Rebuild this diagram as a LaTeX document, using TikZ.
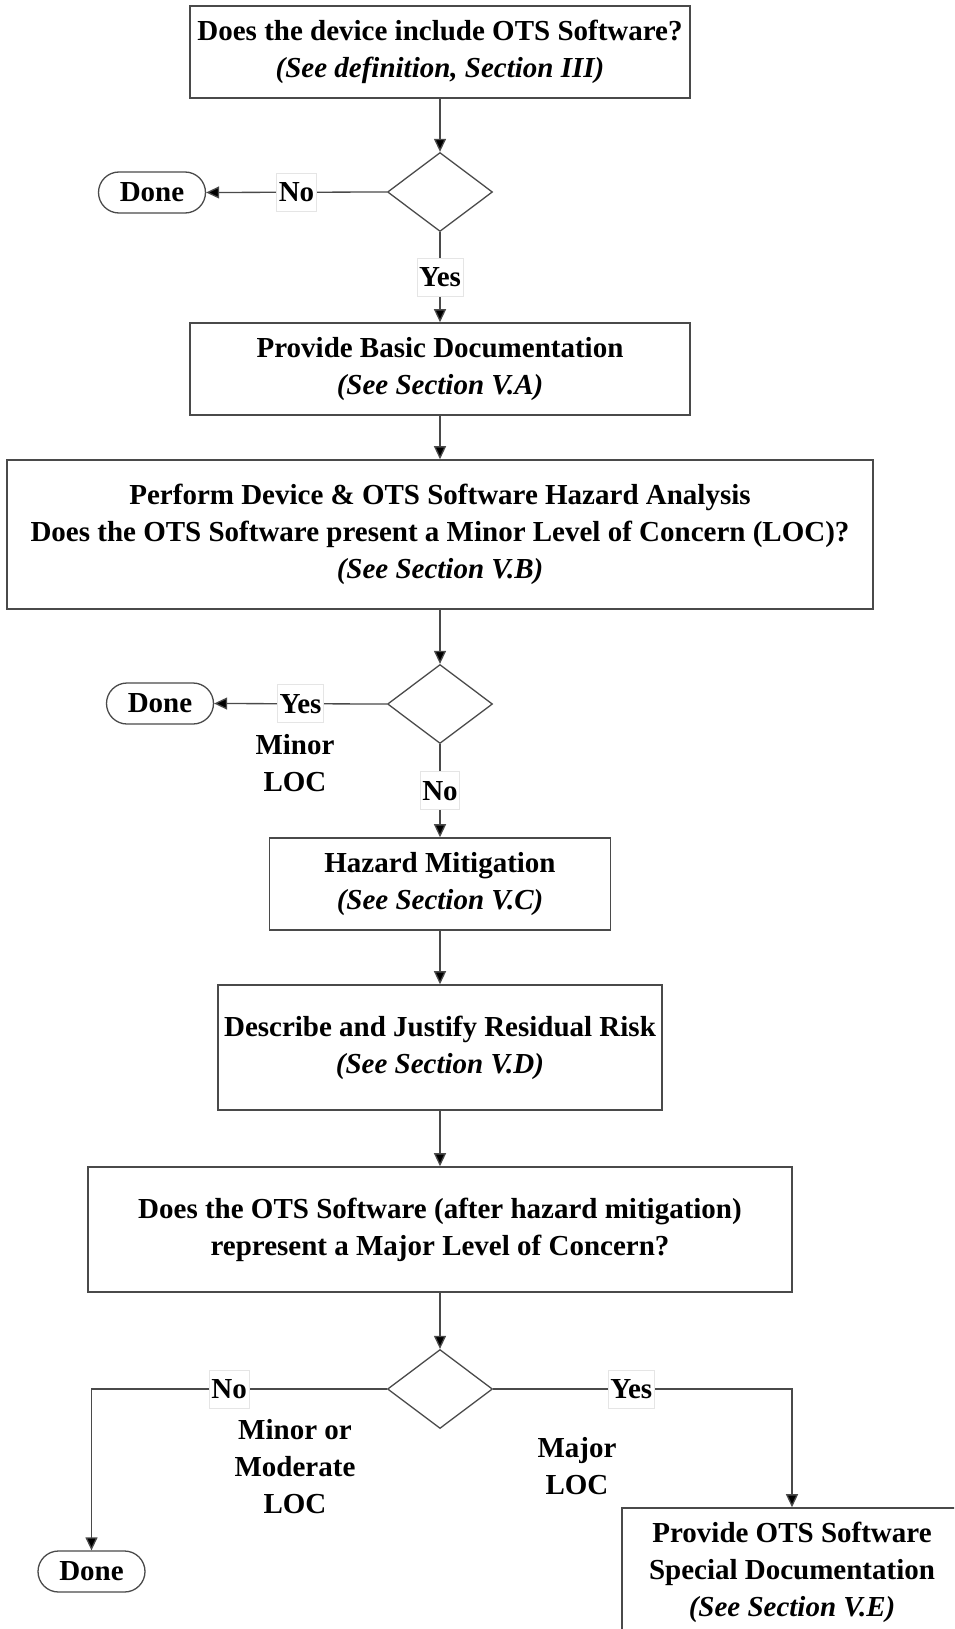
\documentclass[tikz,border=0pt]{standalone}
\usepackage{fontspec}
\setmainfont{Liberation Serif}
\usetikzlibrary{arrows.meta,shapes.geometric,shapes.misc}
\definecolor{linegray}{HTML}{4A4A4A}
\tikzset{
  every node/.style={font=\bfseries\fontsize{29}{37}\selectfont, text=black},
  procbox/.style={draw=linegray, line width=1.6pt, rectangle, align=center, inner sep=0pt},
  decision/.style={draw=linegray, line width=1.3pt, diamond, inner sep=0pt, minimum width=105pt, minimum height=79pt},
  donebox/.style={draw=linegray, line width=1.3pt, rounded rectangle, inner sep=0pt, minimum width=107pt, minimum height=41pt},
  flow/.style={draw=linegray, line width=1.3pt, -{Triangle[length=13pt,width=12pt,fill=black]}},
  lbl/.style={fill=white, draw=gray!20, line width=0.6pt, inner xsep=2pt, inner ysep=0pt, minimum height=38pt},
  note/.style={align=center, inner sep=0pt}
}
\begin{document}
\begin{tikzpicture}[x=1pt,y=-1pt]
\useasboundingbox (0,0) rectangle (954,1629);
\clip (0,0) rectangle (954,1629);
% boxes
\node[procbox, minimum width=500pt, minimum height=92pt] (b1) at (440,52) {Does the device include OTS Software?\\\textit{(See definition, Section III)}};
\node[decision] (d1) at (440,192) {};
\node[donebox] (e1) at (152,192.5) {Done};
\node[procbox, minimum width=500pt, minimum height=92pt] (b2) at (440,369) {Provide Basic Documentation\\\textit{(See Section V.A)}};
\node[procbox, minimum width=866pt, minimum height=149pt] (b3) at (440,534.5) {Perform Device \& OTS Software Hazard Analysis\\Does the OTS Software present a Minor Level of Concern (LOC)?\\\textit{(See Section V.B)}};
\node[decision] (d2) at (440,704) {};
\node[donebox] (e2) at (160,703.5) {Done};
\node[note] (n1) at (295,763) {Minor\\LOC};
\node[procbox, minimum width=341pt, minimum height=92pt] (b4) at (440,884) {Hazard Mitigation\\\textit{(See Section V.C)}};
\node[procbox, minimum width=444pt, minimum height=125pt] (b5) at (440,1047.5) {Describe and Justify Residual Risk\\\textit{(See Section V.D)}};
\node[procbox, minimum width=704pt, minimum height=125pt] (b6) at (440,1229.5) {Does the OTS Software (after hazard mitigation)\\represent a Major Level of Concern?};
\node[decision] (d3) at (440,1389) {};
\node[donebox] (e3) at (91.5,1571.5) {Done};
\node[note] (n2) at (295,1467) {Minor or\\Moderate\\LOC};
\node[note] (n3) at (577,1466) {Major\\LOC};
\node[procbox, minimum width=340pt, minimum height=128pt] (b7) at (792,1572) {Provide OTS Software\\Special Documentation\\\textit{(See Section V.E)}};
% connectors
\draw[flow] (b1) -- (d1);
\draw[flow] (d1.west) -- node[lbl] {No} (e1.east);
\draw[flow] (d1.south) -- node[lbl] {Yes} (b2.north);
\draw[flow] (b2) -- (b3);
\draw[flow] (b3) -- (d2);
\draw[flow] (d2.west) -- node[lbl] {Yes} (e2.east);
\draw[flow] (d2.south) -- node[lbl] {No} (b4.north);
\draw[flow] (b4) -- (b5);
\draw[flow] (b5) -- (b6);
\draw[flow] (b6) -- (d3);
\draw[flow] (d3.west) -| node[lbl, pos=0.267] {No} (e3.north);
\draw[flow] (d3.east) -| node[lbl, pos=0.231] {Yes} (b7.north);
\end{tikzpicture}
\end{document}
